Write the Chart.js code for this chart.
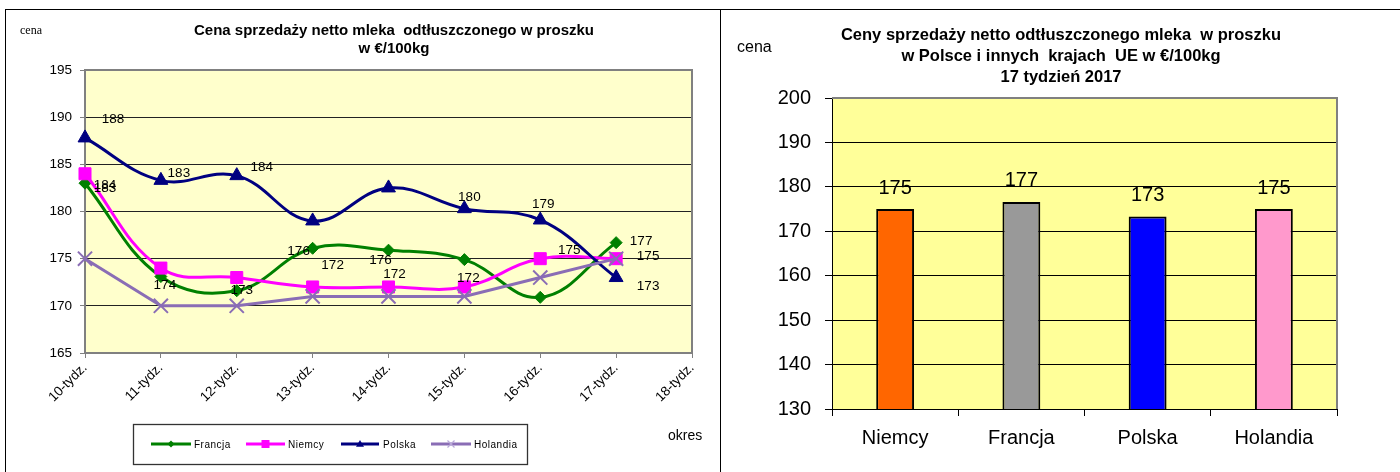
<!DOCTYPE html>
<html><head><meta charset="utf-8">
<script src="https://cdn.jsdelivr.net/npm/chart.js@4.4.1/dist/chart.umd.min.js"></script>
<style>
html,body{margin:0;padding:0;background:#fff;width:1400px;height:472px;overflow:hidden;font-family:"Liberation Sans",Arial,sans-serif;}
#frame{position:absolute;left:5px;top:9px;width:1400px;height:470px;border-left:1px solid #000;border-top:1px solid #000;}
#divider{position:absolute;left:720px;top:9px;width:1px;height:463px;background:#000;}
.box{position:absolute;}
.t{position:absolute;white-space:nowrap;color:#000;text-align:center;}
</style></head><body>
<div id="frame"></div><div id="divider"></div>
<div class="box" style="left:0;top:0;width:720px;height:472px"><canvas id="c1" width="720" height="472"></canvas></div>
<div class="box" style="left:720px;top:0;width:680px;height:472px"><canvas id="c2" width="680" height="472"></canvas></div>

<div class="t" style="left:20px;top:23px;font:12px 'Liberation Serif','Times New Roman',serif;">cena</div>
<div class="t" style="left:144px;top:21px;width:500px;font:bold 15px 'Liberation Sans',Arial,sans-serif;line-height:18px;">Cena sprzedaży netto mleka&nbsp; odtłuszczonego w proszku<br>w €/100kg</div>
<div class="t" style="left:668px;top:427px;font:14px 'Liberation Sans',Arial,sans-serif;">okres</div>

<div class="t" style="left:737px;top:38px;font:16px 'Liberation Sans',Arial,sans-serif;">cena</div>
<div class="t" style="left:811px;top:24px;width:500px;font:bold 16.5px 'Liberation Sans',Arial,sans-serif;line-height:21px;">Ceny sprzedaży netto odtłuszczonego mleka&nbsp; w proszku<br>w Polsce i innych&nbsp; krajach&nbsp; UE w €/100kg<br>17 tydzień 2017</div>

<script>
// ---------- data ----------
const weeks = ['10-tydz.','11-tydz.','12-tydz.','13-tydz.','14-tydz.','15-tydz.','16-tydz.','17-tydz.','18-tydz.'];
const francja  = [183.0, 173.1, 171.6, 176.1, 175.9, 174.9, 170.9, 176.7];
const niemcy   = [184.0, 174.0, 173.0, 172.0, 172.0, 172.0, 175.0, 175.0];
const polska   = [187.8, 183.3, 183.8, 179.0, 182.5, 180.3, 179.1, 173.0];
const holandia = [175.0, 170.0, 170.0, 171.0, 171.0, 171.0, 173.0, 175.0];
const lineMin = 165, lineMax = 195, lineStep = 5;

const countries = ['Niemcy','Francja','Polska','Holandia'];
const week17 = [175.0, 176.6, 173.3, 175.0];
const barMin = 130, barMax = 200, barStep = 10;

// ---------- shared ----------
const SANS = "'Liberation Sans', Arial, sans-serif";
Chart.defaults.font.family = SANS;
Chart.defaults.color = '#000';

const plotFrame = {
  id: 'plotFrame',
  beforeDraw(chart, args, o) {
    const a = chart.chartArea, ctx = chart.ctx;
    ctx.save(); ctx.fillStyle = o.bg; ctx.fillRect(a.left, a.top, a.right - a.left, a.bottom - a.top); ctx.restore();
  },
  afterDraw(chart, args, o) {
    const a = chart.chartArea, ctx = chart.ctx;
    ctx.save(); ctx.strokeStyle = o.border; ctx.lineWidth = 2;
    ctx.beginPath(); ctx.moveTo(a.left, a.top); ctx.lineTo(a.right, a.top); ctx.lineTo(a.right, a.bottom); ctx.stroke();
    ctx.restore();
  }
};

// label placement for the line chart (offsets relative to computed points)
const LABEL_POS = {
  'Francja':  [[0,20,5],[3,-14,3],[4,-8,10],[7,25,-1]],
  'Niemcy':   [[0,20,12],[1,4,17],[2,5,13],[3,20,-22],[4,6,-13],[5,4,-9],[6,29,-8],[7,32,-2]],
  'Polska':   [[0,28,-19],[1,18,-7],[2,25,-8],[5,5,-11],[6,3,-16],[7,32,9]],
  'Holandia': []
};
const lineLabels = {
  id: 'lineLabels',
  afterDatasetsDraw(chart) {
    const ctx = chart.ctx; ctx.save();
    ctx.font = '13.5px ' + SANS; ctx.fillStyle = '#000'; ctx.textAlign = 'center'; ctx.textBaseline = 'middle';
    chart.data.datasets.forEach((ds, i) => {
      const meta = chart.getDatasetMeta(i);
      (LABEL_POS[ds.label] || []).forEach(([idx, dx, dy]) => {
        const el = meta.data[idx]; if (!el || ds.data[idx] == null) return;
        ctx.fillText(String(Math.round(ds.data[idx])), el.x + dx, el.y + dy);
      });
    });
    ctx.restore();
  }
};

function drawMarker(ctx, style, x, y, r, color) {
  ctx.save(); ctx.fillStyle = color; ctx.strokeStyle = color; ctx.lineWidth = 1.2;
  ctx.beginPath();
  if (style === 'rectRot') { ctx.moveTo(x, y - r); ctx.lineTo(x + r, y); ctx.lineTo(x, y + r); ctx.lineTo(x - r, y); ctx.closePath(); ctx.fill(); }
  else if (style === 'rect') { ctx.rect(x - r, y - r, 2 * r, 2 * r); ctx.fill(); }
  else if (style === 'triangle') { ctx.moveTo(x, y - r); ctx.lineTo(x + r, y + r * 0.7); ctx.lineTo(x - r, y + r * 0.7); ctx.closePath(); ctx.fill(); }
  else { ctx.moveTo(x - r, y - r); ctx.lineTo(x + r, y + r); ctx.moveTo(x + r, y - r); ctx.lineTo(x - r, y + r); ctx.stroke(); }
  ctx.restore();
}

const boxLegend = {
  id: 'boxLegend',
  afterDraw(chart) {
    const ctx = chart.ctx; ctx.save();
    ctx.strokeStyle = '#333'; ctx.lineWidth = 1.3;
    ctx.strokeRect(133.5, 424.5, 394, 40);
    const pos = [[151,191,194],[246,285,288],[341,379,383],[431,471,474]];
    ctx.font = '10px ' + SANS; ctx.textBaseline = 'middle'; ctx.textAlign = 'left';
    try { ctx.letterSpacing = '0.5px'; } catch (e) {}
    chart.data.datasets.forEach((ds, i) => {
      const [x1, x2, tx] = pos[i], y = 444;
      ctx.strokeStyle = ds.borderColor; ctx.lineWidth = 3;
      ctx.beginPath(); ctx.moveTo(x1, y); ctx.lineTo(x2, y); ctx.stroke();
      const r = {rectRot: 3.5, rect: 4, triangle: 4, crossRot: 3.5}[ds.pointStyle];
      drawMarker(ctx, ds.pointStyle, (x1 + x2) / 2, y, r, ds.pointStyle === 'crossRot' ? '#B8A8D8' : ds.borderColor);
      ctx.fillStyle = '#000'; ctx.fillText(ds.label, tx, y + 1);
    });
    ctx.restore();
  }
};

// ---------- line chart ----------
new Chart(document.getElementById('c1'), {
  type: 'line',
  data: {
    labels: weeks,
    datasets: [
      {label: 'Francja', data: francja, borderColor: '#008000', backgroundColor: '#008000', pointStyle: 'rectRot', pointRadius: 6, pointBorderWidth: 1, borderWidth: 3, tension: 0.4, order: 4},
      {label: 'Niemcy', data: niemcy, borderColor: '#FF00FF', backgroundColor: '#FF00FF', pointStyle: 'rect', pointRadius: 8.5, pointBorderWidth: 1, borderWidth: 3, tension: 0.4, order: 3},
      {label: 'Polska', data: polska, borderColor: '#000080', backgroundColor: '#000080', pointStyle: 'triangle', pointRadius: 8, pointBorderWidth: 1, borderWidth: 3, tension: 0.4, order: 2},
      {label: 'Holandia', data: holandia, borderColor: '#8A6DB5', backgroundColor: '#8A6DB5', pointStyle: 'crossRot', pointRadius: 10, pointBorderWidth: 2, borderWidth: 3, tension: 0, order: 1}
    ]
  },
  options: {
    responsive: false, animation: false, events: [],
    layout: {padding: {left: 0, top: 70, right: 28, bottom: 0}},
    plugins: {legend: {display: false}, tooltip: {enabled: false}, title: {display: false},
      plotFrame: {bg: '#FFFFCC', border: '#808080'}},
    scales: {
      x: {
        offset: false,
        afterFit: s => { s.height = 119; },
        grid: {drawOnChartArea: false, drawTicks: true, tickLength: 5, tickColor: '#808080', color: '#808080'},
        border: {display: true, color: '#808080', width: 2},
        ticks: {autoSkip: false, minRotation: 45, maxRotation: 45, padding: 2, font: {size: 13.5}, color: '#000'}
      },
      y: {
        min: lineMin, max: lineMax,
        afterFit: s => { s.width = 85; },
        grid: {color: '#222', lineWidth: 1, drawTicks: true, tickLength: 5, tickColor: '#808080'},
        border: {display: true, color: '#808080', width: 2},
        ticks: {stepSize: lineStep, padding: 8, font: {size: 13.5}, color: '#000'}
      }
    }
  },
  plugins: [plotFrame, lineLabels, boxLegend]
});

// ---------- bar chart ----------
const barLabels = {
  id: 'barLabels',
  afterDatasetsDraw(chart) {
    const ctx = chart.ctx; ctx.save();
    ctx.font = '20px ' + SANS; ctx.fillStyle = '#000'; ctx.textAlign = 'center'; ctx.textBaseline = 'middle';
    const ds = chart.data.datasets[0], meta = chart.getDatasetMeta(0);
    meta.data.forEach((el, i) => { ctx.fillText(String(Math.round(ds.data[i])), el.x, el.y - 21); });
    ctx.restore();
  }
};

new Chart(document.getElementById('c2'), {
  type: 'bar',
  data: {
    labels: countries,
    datasets: [{
      data: week17,
      backgroundColor: ['#FF6600', '#999999', '#0000FF', '#FF99CC'],
      borderColor: '#000', borderWidth: 2, borderSkipped: false,
      barPercentage: 0.6, categoryPercentage: 0.5
    }]
  },
  options: {
    responsive: false, animation: false, events: [],
    layout: {padding: {left: 0, top: 98, right: 63, bottom: 0}},
    plugins: {legend: {display: false}, tooltip: {enabled: false},
      plotFrame: {bg: '#FFFF99', border: '#808080'}},
    scales: {
      x: {
        afterFit: s => { s.height = 63; },
        grid: {offset: true, drawOnChartArea: false, drawTicks: true, tickLength: 7, tickColor: '#000'},
        border: {display: true, color: '#000', width: 1},
        ticks: {padding: 10, font: {size: 20}, color: '#000'}
      },
      y: {
        min: barMin, max: barMax,
        afterFit: s => { s.width = 112; },
        grid: {color: '#000', lineWidth: 1, drawTicks: true, tickLength: 7, tickColor: '#000'},
        border: {display: true, color: '#000', width: 1},
        ticks: {stepSize: barStep, padding: 14, font: {size: 20}, color: '#000'}
      }
    }
  },
  plugins: [plotFrame, barLabels]
});
</script>
</body></html>
